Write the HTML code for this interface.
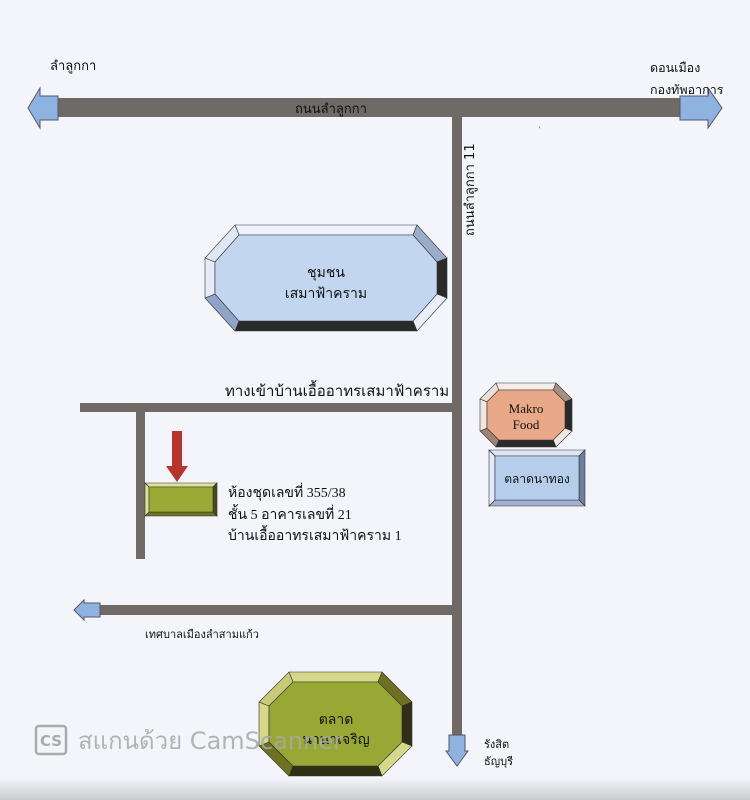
<!DOCTYPE html>
<html><head><meta charset="utf-8"><style>
html,body{margin:0;padding:0;background:#f3f5fa;}
svg{display:block}
text{font-family:"DejaVu Sans","Liberation Sans",sans-serif;fill:#111}
.s{font-family:"Liberation Serif","DejaVu Serif",serif}
</style></head><body>
<svg id="m" width="750" height="800" viewBox="0 0 750 800" xmlns="http://www.w3.org/2000/svg">
<defs><linearGradient id="bt" x1="0" y1="0" x2="0" y2="1"><stop offset="0" stop-color="#f3f5fa"/><stop offset="1" stop-color="#c9cacd"/></linearGradient></defs>
<rect width="750" height="800" fill="#f3f5fa"/>
<rect y="778" width="750" height="22" fill="url(#bt)"/>
<!-- roads -->
<rect x="58" y="98" width="622" height="19" fill="#6f6a66"/>
<polygon points="58,96 58,120 40,120 40,128 28,108 40,88 40,96" fill="#8fb3e0" stroke="#556" stroke-width="1"/>
<polygon points="680,96 680,120 708,120 708,128 722,108 708,88 708,96" fill="#8fb3e0" stroke="#556" stroke-width="1"/>
<rect x="452" y="117" width="10" height="620" fill="#6f6a66"/>
<polygon points="449,735 465,735 465,751 468,751 457,766 446,751 449,751" fill="#8fb3e0" stroke="#556" stroke-width="1"/>
<rect x="80" y="403" width="372" height="9" fill="#6f6a66"/>
<rect x="136" y="412" width="9" height="147" fill="#6f6a66"/>
<rect x="100" y="605" width="352" height="10" fill="#6f6a66"/>
<polygon points="100,603 100,617 84,617 84,620 74,610 84,600 84,603" fill="#8fb3e0" stroke="#556" stroke-width="1"/>
<g id="shapes"></g>
<!-- red arrow -->
<rect x="172" y="431" width="10" height="36" fill="#b5342b"/>
<polygon points="166,466 188,466 177,482" fill="#b5342b"/>
<!-- texts -->
<text x="50" y="70" font-size="13">ลำลูกกา</text>
<text x="650" y="72" font-size="12.5">ดอนเมือง</text>
<text x="650" y="94" font-size="12.5">กองทัพอาการ</text>
<text x="295" y="113" font-size="13">ถนนลำลูกกา</text>
<text transform="translate(474,236) rotate(-90)" font-size="13">ถนนลำลูกกา 11</text>
<text x="539" y="131" font-size="6">'</text>
<text x="326" y="277" font-size="14" text-anchor="middle">ชุมชน</text>
<text x="326" y="298" font-size="14" text-anchor="middle">เสมาฟ้าคราม</text>
<text x="225" y="396" font-size="15" class="s">ทางเข้าบ้านเอื้ออาทรเสมาฟ้าคราม</text>
<text x="526" y="413" font-size="13" text-anchor="middle" class="s">Makro</text>
<text x="526" y="429" font-size="13" text-anchor="middle" class="s">Food</text>
<text x="537" y="483" font-size="12" text-anchor="middle">ตลาดนาทอง</text>
<text x="228" y="497" font-size="14" class="s">ห้องชุดเลขที่ 355/38</text>
<text x="228" y="519" font-size="14" class="s">ชั้น 5 อาคารเลขที่ 21</text>
<text x="228" y="540" font-size="14" class="s">บ้านเอื้ออาทรเสมาฟ้าคราม 1</text>
<text x="145" y="638" font-size="11">เทศบาลเมืองลำสามแก้ว</text>
<text x="336" y="724" font-size="14" text-anchor="middle">ตลาด</text>
<text x="336" y="744" font-size="14" text-anchor="middle">นานาเจริญ</text>
<text x="484" y="748" font-size="11">รังสิต</text>
<text x="484" y="765" font-size="11">ธัญบุรี</text>
<!-- watermark -->
<rect x="36" y="726" width="30" height="28" rx="3" fill="none" stroke="#aaa" stroke-width="2.5"/>
<text x="40" y="746" font-size="15" font-weight="bold" style="fill:#aaa">CS</text>
<text x="78" y="749" font-size="24" style="fill:#a8a8a8;opacity:.85">สแกนด้วย CamScanner</text>
</svg>
<script>
function oct(x,y,w,h,cx,cy,b,cols,fill){
 var O=[[x+cx,y],[x+w-cx,y],[x+w,y+cy],[x+w,y+h-cy],[x+w-cx,y+h],[x+cx,y+h],[x,y+h-cy],[x,y+cy]];
 var I=[[x+cx+b*0.4,y+b],[x+w-cx-b*0.4,y+b],[x+w-b,y+cy+b*0.4],[x+w-b,y+h-cy-b*0.4],[x+w-cx-b*0.4,y+h-b],[x+cx+b*0.4,y+h-b],[x+b,y+h-cy-b*0.4],[x+b,y+cy+b*0.4]];
 if(cx==0){O=[[x,y],[x+w,y],[x+w,y],[x+w,y+h],[x+w,y+h],[x,y+h],[x,y+h],[x,y]];I=[[x+b,y+b],[x+w-b,y+b],[x+w-b,y+b],[x+w-b,y+h-b],[x+w-b,y+h-b],[x+b,y+h-b],[x+b,y+h-b],[x+b,y+b]];}
 var s='';
 for(var i=0;i<8;i++){var j=(i+1)%8;
  s+='<polygon points="'+[O[i],O[j],I[j],I[i]].map(p=>p.join(',')).join(' ')+'" fill="'+cols[i]+'" stroke="#333" stroke-width="0.6"/>';}
 s+='<polygon points="'+I.map(p=>p.join(',')).join(' ')+'" fill="'+fill+'" stroke="#333" stroke-width="0.6"/>';
 return s;
}
var g='';
g+=oct(205,225,242,106,30,33,10,['#eef2fb','#9aaccb','#2a2a2a','#e9eef8','#2a2a2a','#8fa4c6','#e6ecf7','#dfe6f4'],'#c2d6ef');
g+=oct(480,383,92,64,16,16,7,['#f4ede8','#a88f85','#2a2a2a','#f2e8e2','#2a2a2a','#9c8277','#f0e7e1','#ebe0d9'],'#e9a887');
g+=oct(489,450,96,56,0,0,6,['#dbe6f6','#dbe6f6','#6d7fa0','#6d7fa0','#9fb2d1','#9fb2d1','#e1eaf8','#e1eaf8'],'#b6cdec');
g+=oct(145,483,72,33,0,0,4,['#dfe39a','#dfe39a','#4a4a18','#4a4a18','#6f721f','#6f721f','#dfe39a','#dfe39a'],'#9aaa35');
g+=oct(259,672,153,104,30,30,10,['#d6d889','#6e7022','#2f2f14','#d6d889','#2f2f14','#6e7022','#d6d889','#c8ca78'],'#98a834');
document.getElementById('shapes').innerHTML=g;
</script>
</body></html>
